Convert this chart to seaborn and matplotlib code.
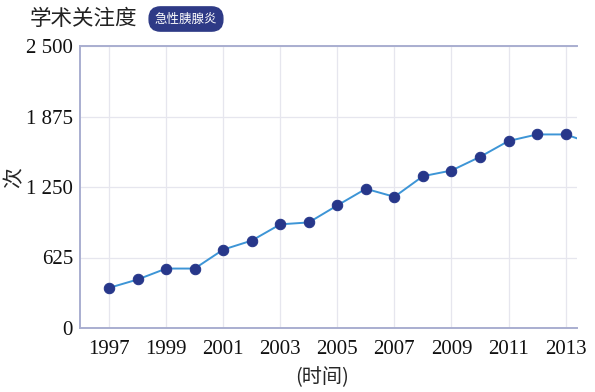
import matplotlib
matplotlib.use("Agg")
import matplotlib.pyplot as plt
import seaborn as sns
import pandas as pd

years = [1997, 1998, 1999, 2000, 2001, 2002, 2003, 2004, 2005,
         2006, 2007, 2008, 2009, 2010, 2011, 2012, 2013, 2014]
counts = [356, 430, 527, 527, 695, 775, 919, 936, 1087,
          1234, 1163, 1346, 1396, 1517, 1658, 1716, 1716, 1630]
y_ticks = [0, 625, 1250, 1875, 2500]
x_ticks = [1997, 1999, 2001, 2003, 2005, 2007, 2009, 2011, 2013]

df = pd.DataFrame({"year": years, "count": counts})

sns.set_theme(style="white")
plt.rcParams['font.family'] = ['Liberation Serif', 'Noto Sans CJK SC', 'DejaVu Sans']

fig = plt.figure(figsize=(5.95, 3.92), dpi=100)
ax = fig.add_axes([80 / 595, 1 - 328 / 392, (577 - 80) / 595, (328 - 46) / 392])

line_c = "#3d95d6"
dot_c = "#27378a"
spine_c = "#a9aed0"

sns.lineplot(data=df, x="year", y="count", ax=ax, color=line_c, linewidth=1.4,
             marker="o", markersize=7.5, markerfacecolor=dot_c,
             markeredgecolor=dot_c, clip_on=True)

ax.set_xlim(1995.98, 2013.4)
ax.set_ylim(0, 2500)
ax.set_xticks(x_ticks)
ax.set_xticklabels([str(x) for x in x_ticks])
ax.set_yticks(y_ticks)
ax.set_yticklabels([f"{v:,}".replace(",", " ") for v in y_ticks])
ax.tick_params(axis="both", length=0, labelsize=15, colors="#111111")
ax.tick_params(axis="x", pad=9)
ax.tick_params(axis="y", pad=5)
ax.grid(True, color="#e6e6ee", linewidth=0.9)

for s in ["left", "bottom", "top"]:
    ax.spines[s].set_color(spine_c)
    ax.spines[s].set_linewidth(1.4)
ax.spines["right"].set_visible(False)

ax.set_xlabel("(时间)", fontsize=14.5, family=['Noto Sans CJK SC'], labelpad=0)
ax.xaxis.set_label_coords((322 - 80) / 497, -(378 - 328) / 282)
ax.xaxis.label.set_va("center")
ax.set_ylabel("次", fontsize=15, family=['Noto Sans CJK SC'])
ax.yaxis.set_label_coords(-(80 - 14) / 497, (328 - 178) / 282)
ax.yaxis.label.set_va("center")

fig.text(30 / 595, 1 - 19 / 392, "学术关注度", fontsize=15.5, family=['Noto Sans CJK SC'],
         va="center", ha="left", color="#222222")
fig.text(186 / 595, 1 - 19 / 392, "急性胰腺炎", fontsize=9, family=['Noto Sans CJK SC'],
         va="center", ha="center", color="white",
         bbox=dict(boxstyle="round,pad=0.45,rounding_size=0.9", fc="#2e3a86", ec="#2e3a86"))

fig.savefig("out.png", dpi=100)
